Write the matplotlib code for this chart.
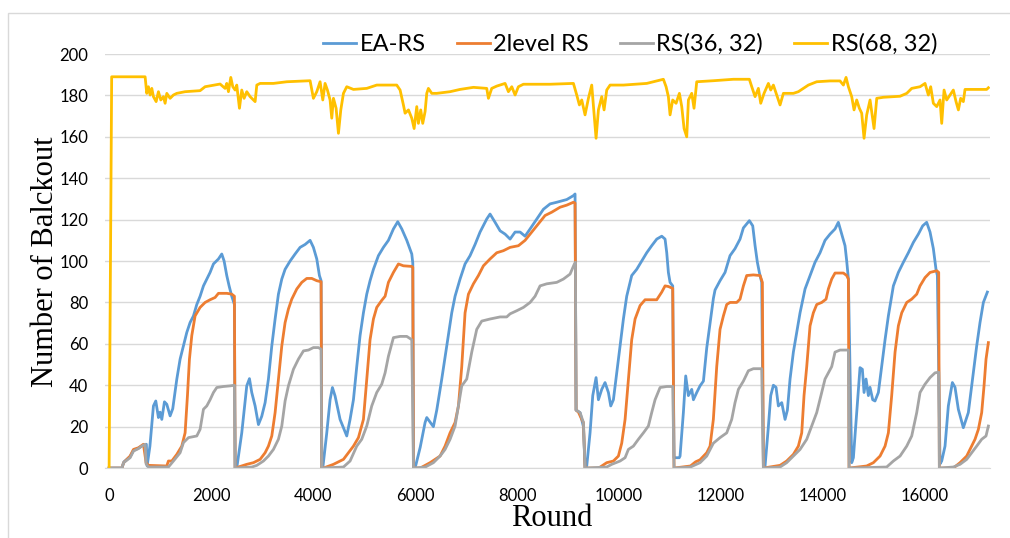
import matplotlib
matplotlib.use('Agg')
import matplotlib.pyplot as plt
from matplotlib.patches import Rectangle

# series: (round, number of blackouts)
ea_x = [0, 250, 290, 410, 480, 575, 650, 730, 745, 800, 869, 915, 967, 1000, 1033, 1085, 1131, 1196, 1248,
        1327, 1392, 1458, 1523, 1588, 1654, 1719, 1784, 1850, 1915, 1980, 2046, 2144, 2209, 2255, 2307, 2353,
        2405, 2457, 2471, 2503, 2601, 2699, 2752, 2797, 2863, 2928, 2993, 3059, 3124, 3190, 3255, 3320, 3386,
        3451, 3549, 3647, 3745, 3843, 3941, 4006, 4072, 4124, 4157, 4170, 4190, 4268, 4333, 4379, 4431, 4529,
        4660, 4725, 4791, 4856, 4921, 4987, 5052, 5117, 5183, 5281, 5379, 5477, 5575, 5660, 5739, 5837, 5935,
        5955, 5968, 6000, 6100, 6196, 6229, 6300, 6359, 6425, 6523, 6621, 6719, 6784, 6882, 6980, 7078, 7176,
        7274, 7405, 7470, 7569, 7667, 7765, 7863, 7961, 8059, 8157, 8255, 8386, 8516, 8647, 8778, 8974, 9105,
        9137, 9157, 9235, 9301, 9333, 9366, 9431, 9484, 9549, 9595, 9660, 9725, 9791, 9837, 9889, 9954, 10020,
        10085, 10150, 10248, 10346, 10444, 10542, 10640, 10739, 10837, 10902, 10935, 10967, 11000, 11052, 11078,
        11180, 11196, 11261, 11307, 11359, 11425, 11458, 11523, 11588, 11654, 11719, 11784, 11850, 11882, 11980,
        12078, 12176, 12274, 12372, 12438, 12555, 12621, 12667, 12712, 12751, 12797, 12830, 12863, 12928, 12974,
        13026, 13078, 13124, 13190, 13255, 13301, 13353, 13418, 13484, 13549, 13647, 13745, 13843, 13941, 14039,
        14137, 14235, 14300, 14366, 14431, 14464, 14497, 14562, 14595, 14660, 14725, 14771, 14804, 14843, 14889,
        14921, 14974, 15019, 15085, 15150, 15216, 15281, 15379, 15477, 15575, 15673, 15771, 15869, 15954, 16032,
        16098, 16163, 16215, 16242, 16294, 16327, 16392, 16457, 16536, 16588, 16653, 16751, 16849, 16947, 17013,
        17078, 17144, 17222]
ea_y = [0, 0, 3, 5.5, 8.5, 9.6, 10.8, 11.5, 1, 10.6, 30, 32.4, 24.4, 27, 23.5, 32, 30.8, 25.2, 28.7,
        42.9, 52.6, 59, 65.5, 70.3, 73.5, 79, 83, 88, 91.3, 94.5, 98.6, 101, 103.4, 100, 93, 88,
        83, 79, 0, 0, 17, 39.7, 43.2, 36.5, 30, 21, 25, 31.6, 43, 59, 72, 84, 91.3,
        96, 100, 103.4, 106.6, 108, 110, 106.6, 101, 93, 90.5, 0, 0, 17, 33, 38.9, 34.8, 23.5,
        15.5, 23.5, 33, 49, 64, 75, 84, 90.5, 96, 102.6, 106.6, 110, 115.5, 119, 115.5, 110, 103.4,
        99, 0, 0, 10, 22, 24.4, 22, 20, 28, 43, 59, 75, 83, 91.3, 98.6, 102.6, 108,
        114, 120.3, 122.7, 118.7, 114.6, 113, 110.6, 114, 114, 112, 115.5, 120.3, 125, 127.6, 128.4, 129.7, 131.6,
        132.4, 28, 26.8, 20, 0, 1, 17, 35, 43.7, 33, 38, 41.3, 36.5, 30, 33, 46, 59,
        72, 83, 93, 96, 100, 104, 107.4, 110.6, 112, 110.6, 104, 94.5, 89.7, 88, 5,
        5, 5.8, 26.8, 44.5, 35, 38, 33, 36.5, 39.7, 42, 58, 70, 82, 86, 90.5,
        94.5, 102.6, 106, 110.6, 116, 119.5, 117, 107.4, 99.4, 94.5, 89.7, 1, 1, 20, 35,
        40, 39, 30, 31.6, 23.5, 28, 43, 56, 65.5, 75, 86.5, 93, 99.4, 104, 110,
        113, 115.5, 118.7, 113, 107.4, 100, 91.3, 2.6, 5, 26.8, 48.5, 47.7, 36.5, 43, 35,
        39, 33, 32.4, 36.5, 49, 62, 73.5, 88, 94.5, 99.4, 104, 109, 113, 117, 118.7,
        114, 106, 96, 93, 2, 3.4, 10.6, 30, 41.3, 39, 28.4, 19.5, 26.8, 46, 59,
        70.3, 80, 85]

lvl_x = [0, 250, 284, 412, 477, 575, 673, 725, 771, 1130, 1163, 1229, 1327, 1425, 1490, 1536, 1575, 1621,
         1686, 1784, 1882, 1980, 2078, 2144, 2307, 2405, 2457, 2471, 2600, 2699, 2830, 2961, 3059, 3124, 3190,
         3255, 3320, 3386, 3451, 3516, 3582, 3680, 3778, 3876, 3974, 4072, 4157, 4170, 4203, 4399, 4595, 4791,
         4889, 4987, 5052, 5117, 5183, 5248, 5346, 5412, 5477, 5575, 5673, 5771, 5935, 5955, 5968, 6100, 6294,
         6490, 6588, 6686, 6784, 6850, 6915, 6980, 7046, 7144, 7242, 7340, 7470, 7601, 7732, 7863, 8026, 8157,
         8288, 8418, 8549, 8680, 8843, 8974, 9105, 9137, 9157, 9203, 9268, 9301, 9333, 9600, 9758, 9889, 9987,
         10052, 10118, 10183, 10248, 10314, 10412, 10510, 10739, 10837, 10902, 10967, 11052, 11078, 11400, 11500,
         11588, 11719, 11784, 11849, 11915, 11980, 12046, 12111, 12176, 12307, 12372, 12438, 12503, 12634, 12765,
         12810, 12830, 13157, 13287, 13418, 13516, 13582, 13627, 13680, 13745, 13810, 13876, 13974, 14059, 14104,
         14170, 14235, 14399, 14464, 14497, 14510, 14856, 14987, 15118, 15216, 15281, 15346, 15412, 15477, 15543,
         15641, 15739, 15837, 15902, 16000, 16098, 16229, 16268, 16281, 16555, 16686, 16817, 16915, 16980, 17046,
         17111, 17157, 17196, 17242]
lvl_y = [0, 0, 2.6, 5.8, 9, 9.8, 11.5, 2.6, 1.3, 1, 3.4, 3.4, 6.6, 10.6, 17, 35, 52.6, 64,
         73.5, 77.6, 80, 81.3, 82.4, 84.4, 84.4, 84, 83, 0, 1, 1.8, 2.6, 4.2, 7.4, 10.6, 15.5,
         26.8, 43, 59, 70.3, 76.8, 81.6, 86.5, 89.7, 91.6, 91.6, 90.5, 90, 0, 0, 1.8, 4.2, 10.6,
         14.7, 23.5, 43, 62, 72, 77.6, 81, 83, 89.7, 94.5, 98.6, 97.7, 97.4, 97, 0, 0, 2.6,
         5.8, 10.6, 17, 22, 30, 49, 75, 84, 89, 93, 97.7, 101, 104, 105, 106.6, 107.4, 110,
         114, 118, 122, 123.6, 126, 127, 128.4, 128, 28, 27, 23.5, 22, 0, 0, 2.6, 3.4, 5.8,
         12, 23.5, 43, 62, 72, 78.5, 81.3, 81.3, 85, 88, 87.7, 86.8, 0, 1, 3,
         4, 7.4, 10.6, 23.5, 49, 67, 73.5, 79, 80, 80, 81.6, 88, 93, 93.3, 93,
         89.7, 0, 1.3, 3.4, 6.6, 10.6, 17, 35, 49, 68.7, 75, 79, 80, 81.6, 86.5,
         91.3, 94.2, 94.2, 93, 91.3, 0, 1, 2.6, 5.8, 10.6, 17, 35, 56, 68.7, 75,
         80, 81.6, 84, 88, 92, 94.5, 95.3, 94.5, 0, 0, 2.6, 5.8, 10.6, 13.9, 18.7,
         26.8, 39.7, 52.6, 60.6]

rs36_x = [0, 250, 284, 412, 477, 575, 640, 706, 725, 771, 1163, 1261, 1392, 1458, 1556, 1719, 1784, 1850,
          1915, 1980, 2046, 2111, 2242, 2373, 2457, 2471, 2800, 2896, 3026, 3124, 3222, 3320, 3386, 3451, 3516,
          3614, 3712, 3811, 3909, 4006, 4104, 4157, 4170, 4595, 4725, 4856, 4954, 5052, 5150, 5248, 5346, 5412,
          5477, 5575, 5706, 5837, 5935, 5968, 6200, 6359, 6490, 6588, 6686, 6784, 6850, 6915, 7013, 7111, 7209,
          7307, 7470, 7667, 7797, 7863, 7994, 8124, 8255, 8353, 8451, 8582, 8778, 8909, 9039, 9124, 9144, 9157,
          9235, 9301, 9333, 9758, 9856, 10020, 10118, 10183, 10281, 10379, 10477, 10575, 10640, 10706, 10804,
          10935, 11052, 11078, 11400, 11588, 11719, 11849, 11980, 12111, 12209, 12274, 12340, 12438, 12536, 12634,
          12797, 12830, 13157, 13287, 13418, 13549, 13680, 13778, 13876, 13974, 14039, 14104, 14170, 14235, 14333,
          14497, 14510, 15248, 15379, 15510, 15641, 15739, 15837, 15902, 15999, 16098, 16196, 16268, 16281, 16555,
          16686, 16817, 16915, 17013, 17111, 17196, 17242]
rs36_y = [0, 0, 2.6, 5, 8.2, 9.4, 10.6, 11.5, 2, 0.5, 0.5, 3.4, 7.4, 12.3, 14.7, 15.5, 18.7, 28.4,
          30, 33, 36.5, 38.9, 39.4, 39.7, 40, 0, 0.5, 1.3, 3.4, 5.8, 9, 13.9, 20.3, 32.4, 39.7,
          47.7, 52.6, 56.6, 57, 58.2, 58.2, 57.4, 0, 0.5, 3.4, 10.6, 13.9, 20.3, 30, 36.5, 40.5, 46,
          54, 63, 63.6, 63.6, 62, 0, 0.5, 2.6, 5.8, 9, 13.9, 20.3, 30, 39.7, 43, 56, 67,
          71, 72, 73, 73, 74.5, 76, 77.6, 80, 83, 88, 89, 89.7, 91.3, 93.7, 98.6, 99.4, 28,
          26.8, 22, 0, 0.5, 1.8, 3.4, 5, 9, 10.6, 13.9, 17, 20.3, 26.8, 33, 38.9,
          39.4, 39.4, 0, 0.5, 2.6, 5.8, 12, 14.7, 17, 23.5, 31.6, 38, 42, 47, 48,
          48, 0, 0.5, 2.6, 5.8, 9, 13.9, 20.3, 26.8, 36.5, 43, 46, 49, 56, 57,
          57, 0, 0.5, 3.4, 5.8, 10.6, 15.5, 26.8, 36.5, 40.5, 43.7, 46, 46.3, 0, 0.5,
          1.8, 4.2, 7.4, 10.6, 13.9, 15.5, 20.3]

rs68_x = [0, 50, 706, 738, 771, 804, 837, 869, 922, 967, 1013, 1065, 1098, 1131, 1196, 1261, 1327, 1490, 1784,
          1882, 2176, 2274, 2307, 2340, 2386, 2425, 2471, 2503, 2556, 2601, 2647, 2699, 2765, 2830, 2863, 2896,
          2961, 3222, 3484, 3941, 4006, 4072, 4137, 4190, 4235, 4281, 4333, 4366, 4399, 4451, 4497, 4543, 4595,
          4660, 4791, 5052, 5248, 5640, 5706, 5771, 5804, 5870, 5935, 5981, 6033, 6065, 6111, 6150, 6196, 6229,
          6261, 6327, 6425, 6686, 6882, 7144, 7405, 7438, 7503, 7601, 7765, 7830, 7896, 7961, 8026, 8124, 8647,
          9105, 9170, 9222, 9268, 9333, 9399, 9464, 9510, 9549, 9595, 9660, 9706, 9758, 9824, 10085, 10543, 10673,
          10869, 10922, 10967, 11000, 11052, 11118, 11183, 11229, 11275, 11327, 11360, 11425, 11470, 11523, 11850,
          12242, 12555, 12602, 12667, 12732, 12778, 12843, 12928, 12974, 13026, 13092, 13157, 13222, 13418, 13516,
          13614, 13712, 13876, 14137, 14333, 14399, 14451, 14497, 14562, 14608, 14660, 14712, 14758, 14804, 14856,
          14922, 15000, 15053, 15183, 15379, 15510, 15641, 15739, 15902, 16000, 16065, 16111, 16163, 16229, 16294,
          16327, 16373, 16425, 16490, 16555, 16608, 16654, 16699, 16751, 16784, 17209, 17242]
rs68_y = [0, 189, 189, 181, 184.2, 180.2, 183.4, 179.4, 177, 181.8, 177.8, 179.4, 176.2, 181, 178.6, 180.2,
          181, 181.8, 182.3, 184.2, 185.5, 183.4, 185.8, 181.8, 188.7, 184.2, 182.6, 185, 173.8, 182.6, 178.6,
          181.8, 179.4, 177.8, 177, 185, 185.8, 185.8, 186.6, 187.1, 178.6, 181.8, 186.6, 177.8, 185.8, 182.6,
          177.8, 169, 178.6, 173.8, 161.7, 173, 181, 184.2, 182.9, 183.4, 185, 185, 182.6, 175.4, 171.4, 173,
          169, 164, 174.6, 166.5, 173, 166.5, 172.2, 181, 183.4, 181, 181, 181.8, 182.9, 183.9, 183.4, 178.6,
          183.4, 184.5, 185.8, 181.8, 184.2, 180.2, 184.2, 185.4, 185.4, 185.8, 180.2, 175.4, 177.8, 170.6,
          178.6, 185, 171.4, 159.3, 173, 179.4, 173, 182.6, 185, 185, 185.8, 186.6, 187.8, 184.2, 179.4, 170.6,
          177.8, 176.2, 181, 174.6, 164, 160, 177.8, 181, 173.8, 186.6, 187.1, 187.8, 187.8, 184.2, 179.4,
          183.4, 176.2, 181, 185.8, 182.6, 185, 180.2, 175.4, 181, 181, 181.8, 183.4, 185, 186.6, 187, 187,
          185, 188.7, 184.2, 179.4, 173, 177.8, 173.8, 171.4, 159.3, 170.6, 177.8, 164, 178.6, 179.1, 179.4,
          179.6, 181, 183.4, 184.2, 185.8, 180.2, 184.2, 176.2, 174.6, 177.8, 166.5, 182.6, 177.8, 180.2,
          182.6, 177, 173, 178.6, 177, 182.9, 182.9, 183.7]

labels = ['EA-RS', '2level RS', 'RS(36, 32)', 'RS(68, 32)']
colors = ['#5B9BD5', '#ED7D31', '#A5A5A5', '#FFC000']
x_ticks = [0, 2000, 4000, 6000, 8000, 10000, 12000, 14000, 16000]
y_ticks = [0, 20, 40, 60, 80, 100, 120, 140, 160, 180, 200]

plt.rcParams['font.family'] = ['Lato', 'DejaVu Sans']

fig = plt.figure(figsize=(10.1, 5.38), dpi=100)
fig.patches.append(Rectangle((0.008, -0.1), 1.5, 1.076, transform=fig.transFigure,
                             facecolor='none', edgecolor='#D9D9D9', lw=1))
ax = fig.add_axes([0.104, 0.13, 0.876, 0.7696])

for xs, ys, lab, c in zip([ea_x, lvl_x, rs36_x, rs68_x], [ea_y, lvl_y, rs36_y, rs68_y], labels, colors):
    ax.plot(xs, ys, color=c, lw=2.0, label=lab, solid_joinstyle='round')

ax.set_xlim(-80, 17270)
ax.set_ylim(0, 200)
ax.set_xticks(x_ticks)
ax.set_yticks(y_ticks)
ax.tick_params(length=0, labelsize=12)
ax.tick_params(axis='x', pad=14)
ax.tick_params(axis='y', pad=12)
ax.grid(axis='y', color='#D9D9D9', lw=1)
ax.set_axisbelow(True)
for s in ['top', 'right', 'left']:
    ax.spines[s].set_visible(False)
ax.spines['bottom'].set_color('#D9D9D9')

fig.text(46 / 1010, 0.513, 'Number of Balckout', rotation=90, ha='center', va='center',
         fontsize=22, family='Liberation Serif')
fig.text(552 / 1010, 1 - 518 / 538, 'Round', ha='center', va='center',
         fontsize=22, family='Liberation Serif')

fig.legend(loc='center', bbox_to_anchor=(0.624, 0.918), ncol=4, fontsize=17, frameon=False,
           handlelength=1.4, handletextpad=0.15, columnspacing=1.3)

fig.savefig('out.png', dpi=100)
